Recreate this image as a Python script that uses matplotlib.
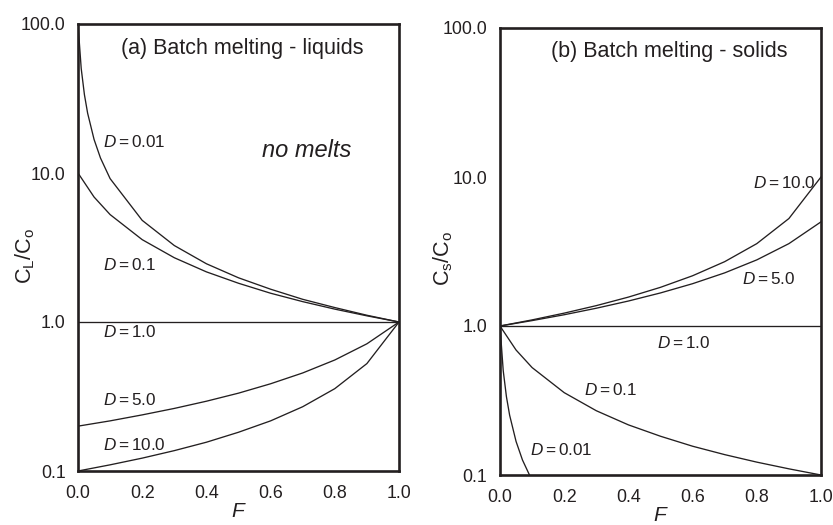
import matplotlib
matplotlib.use("Agg")
import matplotlib.pyplot as plt
from matplotlib.ticker import FixedLocator, NullLocator

plt.rcParams["font.family"] = ["Liberation Sans", "DejaVu Sans"]
plt.rcParams["mathtext.fontset"] = "custom"
plt.rcParams["mathtext.rm"] = "Liberation Sans"
plt.rcParams["mathtext.it"] = "Liberation Sans:italic"
plt.rcParams["mathtext.bf"] = "Liberation Sans:bold"

INK = "#231f20"

# Melt fractions used for the curves
F_steps = [0.0, 0.1, 0.2, 0.3, 0.4, 0.5, 0.6, 0.7, 0.8, 0.9, 1.0]
F_mid = [0.0, 0.05, 0.1, 0.2, 0.3, 0.4, 0.5, 0.6, 0.7, 0.8, 0.9, 1.0]
F_low = [0.0, 0.01, 0.02, 0.03, 0.05, 0.07, 0.1, 0.2, 0.3, 0.4, 0.5,
         0.6, 0.7, 0.8, 0.9, 1.0]

# (a) liquid concentrations C_L/C_o
liq_d001 = [100.0, 50.25, 33.56, 25.19, 16.81, 12.61, 9.17, 4.81, 3.26,
            2.46, 1.98, 1.66, 1.42, 1.25, 1.11, 1.0]
liq_d01 = [10.0, 6.90, 5.26, 3.57, 2.70, 2.17, 1.82, 1.56, 1.37, 1.22,
           1.10, 1.0]
liq_d1 = [1.0, 1.0, 1.0, 1.0, 1.0, 1.0, 1.0, 1.0, 1.0, 1.0, 1.0]
liq_d5 = [0.2, 0.217, 0.238, 0.263, 0.294, 0.333, 0.385, 0.455, 0.556,
          0.714, 1.0]
liq_d10 = [0.1, 0.110, 0.122, 0.137, 0.156, 0.182, 0.217, 0.270, 0.357,
           0.526, 1.0]

# (b) residual solid concentrations C_S/C_o
sol_d001 = [1.0, 0.5025, 0.3356, 0.2519, 0.1681, 0.1261, 0.0917, 0.0481,
            0.0326, 0.0246, 0.0198, 0.0166, 0.0142, 0.0125, 0.0111, 0.01]
sol_d01 = [1.0, 0.690, 0.526, 0.357, 0.270, 0.217, 0.182, 0.156, 0.137,
           0.122, 0.110, 0.100]
sol_d1 = [1.0, 1.0, 1.0, 1.0, 1.0, 1.0, 1.0, 1.0, 1.0, 1.0, 1.0]
sol_d5 = [1.0, 1.087, 1.190, 1.316, 1.471, 1.667, 1.923, 2.273, 2.778,
          3.571, 5.0]
sol_d10 = [1.0, 1.099, 1.220, 1.370, 1.563, 1.818, 2.174, 2.703, 3.571,
           5.263, 10.0]

x_ticks = [0.0, 0.2, 0.4, 0.6, 0.8, 1.0]
x_labels = ["0.0", "0.2", "0.4", "0.6", "0.8", "1.0"]
y_ticks = [0.1, 1.0, 10.0, 100.0]
y_labels = ["0.1", "1.0", "10.0", "100.0"]

W, H = 833, 525
fig = plt.figure(figsize=(W / 100, H / 100), dpi=100)
ax_a = fig.add_axes([78 / W, 1 - 471 / H, 321 / W, 447 / H])
ax_b = fig.add_axes([500 / W, 1 - 475 / H, 321 / W, 447 / H])


def style_axes(ax):
    ax.set_yscale("log")
    ax.set_xlim(0, 1)
    ax.set_ylim(0.1, 100)
    ax.xaxis.set_major_locator(FixedLocator(x_ticks))
    ax.set_xticklabels(x_labels)
    ax.yaxis.set_major_locator(FixedLocator(y_ticks))
    ax.yaxis.set_minor_locator(NullLocator())
    ax.set_yticklabels(y_labels)
    ax.tick_params(axis="both", length=0, labelsize=12.8, colors=INK)
    ax.tick_params(axis="x", pad=10)
    ax.tick_params(axis="y", pad=9)
    for sp in ax.spines.values():
        sp.set_linewidth(1.9)
        sp.set_color(INK)
    ax.set_xlabel(r"$F$", fontsize=15, color=INK, labelpad=0)


line_kw = dict(color=INK, linewidth=0.95, clip_on=True)
lab_kw = dict(fontsize=12.3, color=INK, va="center", ha="left")

# Panel (a): liquids
ax_a.plot(F_low, liq_d001, **line_kw)
ax_a.plot(F_mid, liq_d01, **line_kw)
ax_a.plot(F_steps, liq_d1, **line_kw)
ax_a.plot(F_steps, liq_d5, **line_kw)
ax_a.plot(F_steps, liq_d10, **line_kw)
style_axes(ax_a)
fig.text(25 / W, 1 - 256 / H, r"$\mathrm{C_L/C_o}$", rotation=90,
         fontsize=15.5, color=INK, ha="center", va="center")

ax_a.text(0.511, 0.946, "(a) Batch melting - liquids", transform=ax_a.transAxes,
          fontsize=15.5, color=INK, ha="center", va="center")
ax_a.text(0.572, 0.718, "no melts", transform=ax_a.transAxes, fontsize=17,
          style="italic", color=INK, ha="left", va="center")
ax_a.text(0.078, 0.736, r"$D = 0.01$", transform=ax_a.transAxes, **lab_kw)
ax_a.text(0.078, 0.461, r"$D = 0.1$", transform=ax_a.transAxes, **lab_kw)
ax_a.text(0.078, 0.311, r"$D = 1.0$", transform=ax_a.transAxes, **lab_kw)
ax_a.text(0.078, 0.159, r"$D = 5.0$", transform=ax_a.transAxes, **lab_kw)
ax_a.text(0.078, 0.058, r"$D = 10.0$", transform=ax_a.transAxes, **lab_kw)

# Panel (b): residual solids
ax_b.plot(F_low, sol_d001, **line_kw)
ax_b.plot(F_mid, sol_d01, **line_kw)
ax_b.plot(F_steps, sol_d1, **line_kw)
ax_b.plot(F_steps, sol_d5, **line_kw)
ax_b.plot(F_steps, sol_d10, **line_kw)
style_axes(ax_b)
fig.text(443 / W, 1 - 258 / H, r"$\mathrm{C_s/C_o}$", rotation=90,
         fontsize=15.5, color=INK, ha="center", va="center")

ax_b.text(0.528, 0.947, "(b) Batch melting - solids", transform=ax_b.transAxes,
          fontsize=15.5, color=INK, ha="center", va="center")
ax_b.text(0.789, 0.654, r"$D = 10.0$", transform=ax_b.transAxes, **lab_kw)
ax_b.text(0.753, 0.438, r"$D = 5.0$", transform=ax_b.transAxes, **lab_kw)
ax_b.text(0.488, 0.295, r"$D = 1.0$", transform=ax_b.transAxes, **lab_kw)
ax_b.text(0.262, 0.190, r"$D = 0.1$", transform=ax_b.transAxes, **lab_kw)
ax_b.text(0.093, 0.056, r"$D = 0.01$", transform=ax_b.transAxes, **lab_kw)

fig.savefig("out.png", dpi=100)
